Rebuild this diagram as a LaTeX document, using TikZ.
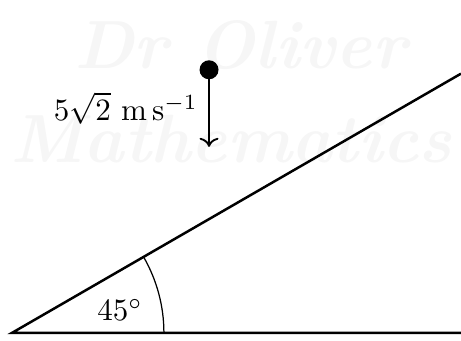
\documentclass[tikz,border=0pt]{standalone}
\usepackage{amsmath}
\usepackage{tikz}
\usetikzlibrary{arrows.meta,positioning,calc}
\definecolor{wmgray}{HTML}{F6F6F6}
\tikzset{
  slopeline/.style={thick, draw=black, line join=miter},
  ballstyle/.style={circle, fill=black, inner sep=0pt, minimum size=2.15mm},
  velarrow/.style={->, semithick},
  anglearc/.style={thin},
  watermark/.style={text=wmgray, font=\fontsize{22}{22}\selectfont\itshape\bfseries}
}

\begin{document}
\begin{tikzpicture}
\useasboundingbox (0,0) rectangle (5.22,3.86);
% faint watermark
\node[watermark] (wmtop) at (2.72,3.35) {Dr Oliver};
\node[watermark] (wmbot) at (2.62,2.28) {Mathematics};
% slope
\coordinate (O) at (0.136,0.091);
\coordinate (base) at (5.22,0.091);
\coordinate (top) at ($(O)+(30:5.87)$);
\draw[slopeline] (base) -- (O) -- (top);
\draw[anglearc] ($(O)+(1.72,0)$) arc[start angle=0, end angle=30, radius=1.72];
\node (angle) at ($(O)+(12:1.25)$) {$45^\circ$};
% particle
\node[ballstyle] (ball) at (2.367,3.07) {};
\coordinate (tip) at (2.367,2.197);
\draw[velarrow] (ball.center) -- (tip) node[midway, left] (speed) {$5\sqrt{2}\ \mathrm{m\,s^{-1}}$};
\end{tikzpicture}
\end{document}
